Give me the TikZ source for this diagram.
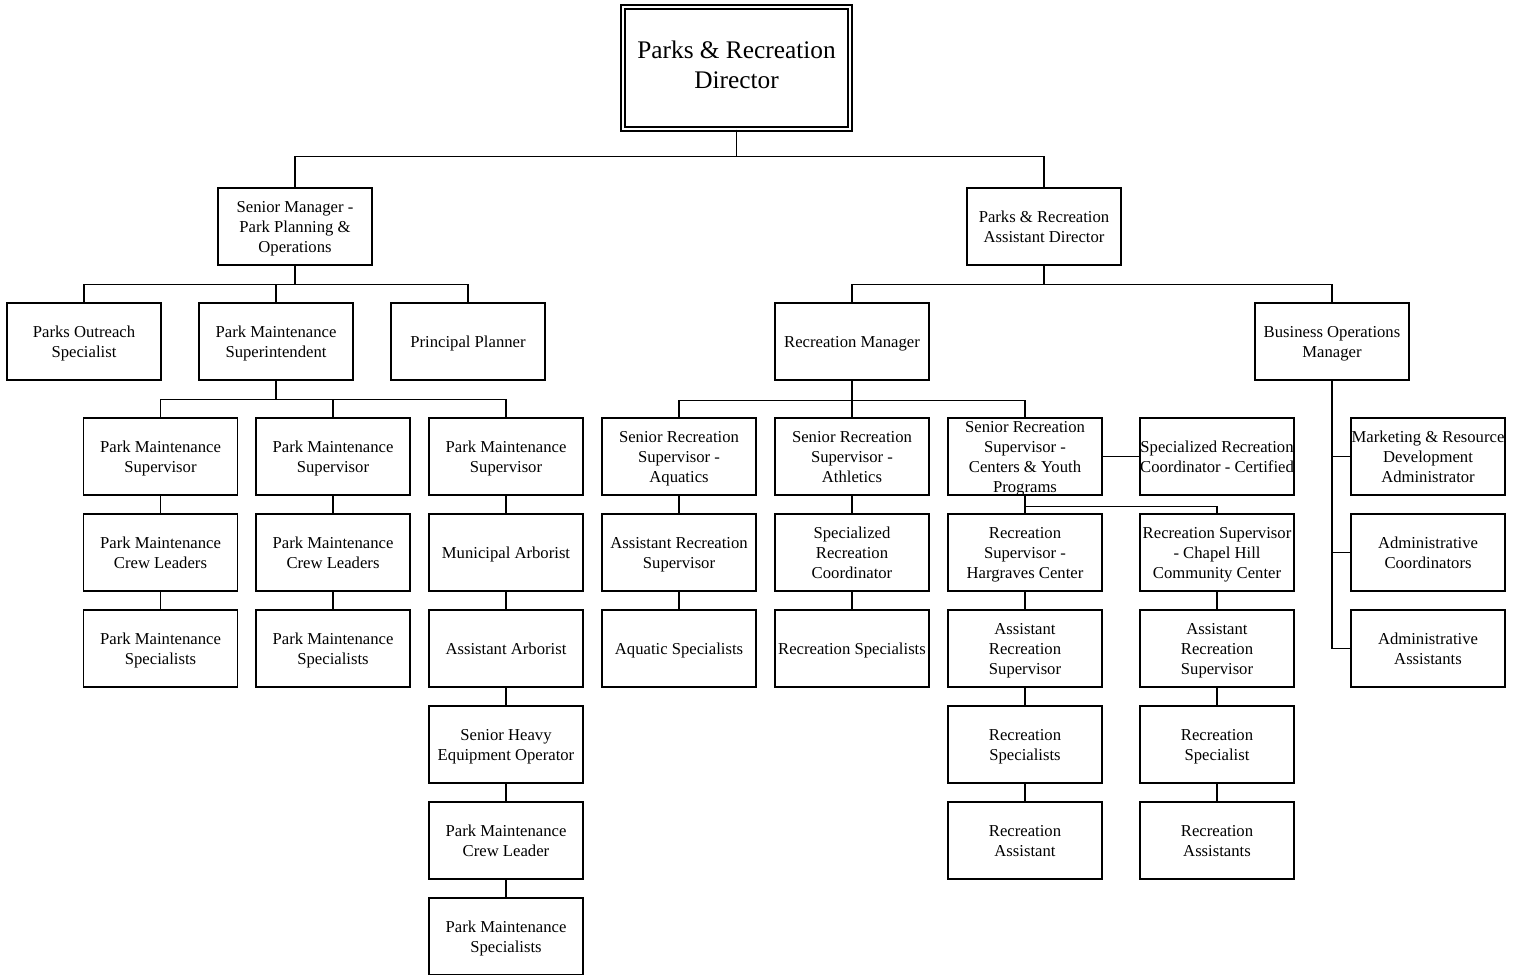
\documentclass[tikz,border=0pt]{standalone}
\usepackage{fontspec}
\setmainfont{Liberation Serif}
\tikzset{
  box/.style={draw, line width=1pt, minimum width=115.5pt, minimum height=57.75pt, inner sep=0pt, align=center, text depth=0pt, font=\fontsize{12.5}{15}\selectfont},
  conn/.style={line width=1pt},
  topbox/.style={draw, double, double distance=2.2pt, line width=0.8pt, minimum width=170.25pt, minimum height=91.5pt, inner sep=0pt, align=center, text depth=4.5pt, font=\fontsize{19}{22.5}\selectfont},
}
\begin{document}
\begin{tikzpicture}[x=0.75pt,y=-0.75pt]
\useasboundingbox (0,0) rectangle (1515,974);
% level 1
\node[topbox] (dir) at (736.5,68) {Parks \& Recreation\\Director};
% level 2
\node[box] (sm) at (295,226.5) {Senior Manager -\\Park Planning \&\\Operations};
\node[box] (ad) at (1044,226.5) {Parks \& Recreation\\Assistant Director};
% level 3
\node[box] (pos) at (84,341.5) {Parks Outreach\\Specialist};
\node[box] (pms) at (276,341.5) {Park Maintenance\\Superintendent};
\node[box] (pp) at (468,341.5) {Principal Planner};
\node[box] (rm) at (852,341.5) {Recreation Manager};
\node[box] (bom) at (1332,341.5) {Business Operations\\Manager};
% level 4
\node[box] (s1) at (160.5,456.5) {Park Maintenance\\Supervisor};
\node[box] (s2) at (333,456.5) {Park Maintenance\\Supervisor};
\node[box] (s3) at (506,456.5) {Park Maintenance\\Supervisor};
\node[box] (aq) at (679,456.5) {Senior Recreation\\Supervisor -\\Aquatics};
\node[box] (ath) at (852,456.5) {Senior Recreation\\Supervisor -\\Athletics};
\node[box] (cy) at (1025,456.5) {Senior Recreation\\Supervisor -\\Centers \& Youth\\Programs};
\node[box] (src) at (1217,456.5) {Specialized Recreation\\Coordinator - Certified};
\node[box] (mk) at (1428,456.5) {Marketing \& Resource\\Development\\Administrator};
% level 5
\node[box] (c1) at (160.5,552.5) {Park Maintenance\\Crew Leaders};
\node[box] (c2) at (333,552.5) {Park Maintenance\\Crew Leaders};
\node[box] (ma) at (506,552.5) {Municipal Arborist};
\node[box] (ars) at (679,552.5) {Assistant Recreation\\Supervisor};
\node[box] (sprc) at (852,552.5) {Specialized\\Recreation\\Coordinator};
\node[box] (hg) at (1025,552.5) {Recreation\\Supervisor -\\Hargraves Center};
\node[box] (ch) at (1217,552.5) {Recreation Supervisor\\- Chapel Hill\\Community Center};
\node[box] (ac) at (1428,552.5) {Administrative\\Coordinators};
% level 6
\node[box] (p1) at (160.5,648.5) {Park Maintenance\\Specialists};
\node[box] (p2) at (333,648.5) {Park Maintenance\\Specialists};
\node[box] (aa) at (506,648.5) {Assistant Arborist};
\node[box] (aqs) at (679,648.5) {Aquatic Specialists};
\node[box] (rs) at (852,648.5) {Recreation Specialists};
\node[box] (hgars) at (1025,648.5) {Assistant\\Recreation\\Supervisor};
\node[box] (chars) at (1217,648.5) {Assistant\\Recreation\\Supervisor};
\node[box] (adas) at (1428,648.5) {Administrative\\Assistants};
% level 7
\node[box] (sheo) at (506,744.5) {Senior Heavy\\Equipment Operator};
\node[box] (hgrs) at (1025,744.5) {Recreation\\Specialists};
\node[box] (chrs) at (1217,744.5) {Recreation\\Specialist};
% level 8
\node[box] (pmcl) at (506,840.5) {Park Maintenance\\Crew Leader};
\node[box] (hgra) at (1025,840.5) {Recreation\\Assistant};
\node[box] (chra) at (1217,840.5) {Recreation\\Assistants};
% level 9
\node[box] (pmsp) at (506,936.5) {Park Maintenance\\Specialists};

% connectors
\draw[conn] (dir.south) -- ++(0,27) coordinate (b1);
\draw[conn] (sm.north) |- (b1) -| (ad.north);

\draw[conn] (sm.south) -- ++(0,19) coordinate (b2);
\draw[conn] (pos.north) |- (b2) -| (pp.north);
\draw[conn] (pms.north) -- (pms.north |- b2);

\draw[conn] (pms.south) -- ++(0,19) coordinate (b3);
\draw[conn] (s1.north) |- (b3) -| (s3.north);
\draw[conn] (s2.north) -- (s2.north |- b3);

\draw[conn] (ad.south) -- ++(0,19) coordinate (b4);
\draw[conn] (rm.north) |- (b4) -| (bom.north);

\draw[conn] (rm.south) -- ++(0,20) coordinate (b5);
\draw[conn] (aq.north) |- (b5) -| (cy.north);
\draw[conn] (b5) -- (ath.north);

\draw[conn] (cy.east) -- (src.west);
\draw[conn] (cy.south) -- (hg.north);
\path (cy.south) ++(0,11) coordinate (b6);
\draw[conn] (b6) -| (ch.north);

\draw[conn] (bom.south) |- (adas.west);
\draw[conn] (bom.south |- mk.west) -- (mk.west);
\draw[conn] (bom.south |- ac.west) -- (ac.west);

\draw[conn] (s1) -- (c1) -- (p1);
\draw[conn] (s2) -- (c2) -- (p2);
\draw[conn] (s3) -- (ma) -- (aa) -- (sheo) -- (pmcl) -- (pmsp);
\draw[conn] (aq) -- (ars) -- (aqs);
\draw[conn] (ath) -- (sprc) -- (rs);
\draw[conn] (hg) -- (hgars) -- (hgrs) -- (hgra);
\draw[conn] (ch) -- (chars) -- (chrs) -- (chra);
\end{tikzpicture}
\end{document}
